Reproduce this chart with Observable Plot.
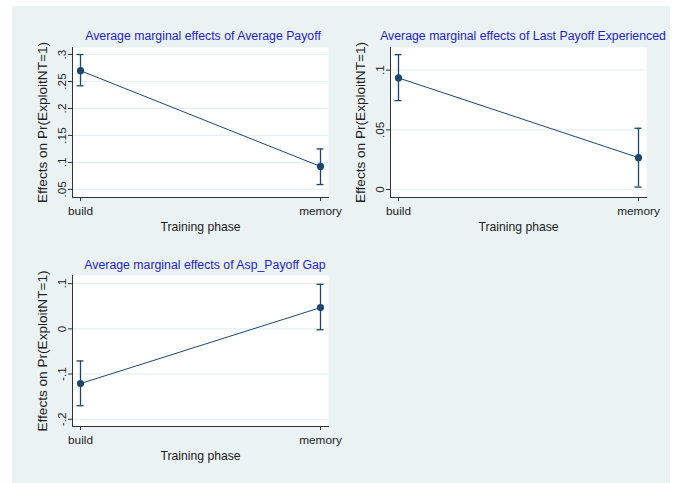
<!DOCTYPE html>
<html>
<head>
<meta charset="utf-8">
<script src="https://cdn.jsdelivr.net/npm/d3@7"></script>
<script src="https://cdn.jsdelivr.net/npm/@observablehq/plot@0.6"></script>
<style>
  html, body { margin: 0; padding: 0; background: #ffffff; }
  #root { position: relative; width: 679px; height: 483px; overflow: hidden; font-family: "Liberation Sans", Arial, sans-serif; }
  #bg { position: absolute; left: 12px; top: 6px; width: 658px; height: 477px; background: #eaf2f3; }
  .panel { position: absolute; }
  .panel svg { overflow: visible; }
  .title { position: absolute; white-space: nowrap; color: #1f1fc4; font-size: 12.3px; transform: translateX(-50%); }
  .panel svg g[aria-label="y-axis tick label"] text,
  .panel svg g[aria-label="x-axis tick label"] text { font-size: 11.8px; }
  .panel svg g[aria-label="y-axis label"] text { font-size: 13.6px; }
  .panel svg g[aria-label="x-axis label"] text { font-size: 12.2px; }
</style>
</head>
<body>
<div id="root"><div id="bg"></div></div>
<script>
// ---- data ----
const phases = ["build", "memory"];

const titles = [
  "Average marginal effects of Average Payoff",
  "Average marginal effects of Last Payoff Experienced",
  "Average marginal effects of Asp_Payoff Gap"
];

// panel 1: Average Payoff
const est1 = [0.270, 0.0925];
const lo1  = [0.242, 0.059];
const hi1  = [0.300, 0.125];
const ticks1 = [0.05, 0.1, 0.15, 0.2, 0.25, 0.3];
const tickLabels1 = [".05", ".1", ".15", ".2", ".25", ".3"];

// panel 2: Last Payoff Experienced
const est2 = [0.0935, 0.0267];
const lo2  = [0.0745, 0.002];
const hi2  = [0.113, 0.0513];
const ticks2 = [0, 0.05, 0.1];
const tickLabels2 = ["0", ".05", ".1"];

// panel 3: Asp_Payoff Gap
const est3 = [-0.121, 0.047];
const lo3  = [-0.170, -0.002];
const hi3  = [-0.071, 0.0985];
const ticks3 = [-0.2, -0.1, 0, 0.1];
const tickLabels3 = ["-.2", "-.1", "0", ".1"];

const xLabel = "Training phase";
const yLabel = "Effects on Pr(ExploitNT=1)";

// ---- layout ----
const panels = [
  {title: titles[0], est: est1, lo: lo1, hi: hi1, ticks: ticks1, labels: tickLabels1,
   domain: [0.035, 0.313], left: 0, top: 0, width: 360, height: 240,
   m: {l: 72, r: 32, t: 47, b: 43}, titleX: 203, titleY: 29},
  {title: titles[1], est: est2, lo: lo2, hi: hi2, ticks: ticks2, labels: tickLabels2,
   domain: [-0.0067, 0.119], left: 340, top: 0, width: 339, height: 240,
   m: {l: 50, r: 33, t: 47, b: 43}, titleX: 523, titleY: 29},
  {title: titles[2], est: est3, lo: lo3, hi: hi3, ticks: ticks3, labels: tickLabels3,
   domain: [-0.216, 0.118], left: 0, top: 240, width: 360, height: 243,
   m: {l: 72, r: 32, t: 35, b: 57}, titleX: 205, titleY: 258}
];

const navy = "#1a476f";
const root = document.getElementById("root");

for (const p of panels) {
  const rows = phases.map((ph, i) => ({phase: ph, est: p.est[i], lo: p.lo[i], hi: p.hi[i]}));
  const fmt = d => p.labels[p.ticks.indexOf(d)] ?? String(d);
  const chart = Plot.plot({
    width: p.width,
    height: p.height,
    marginLeft: p.m.l, marginRight: p.m.r, marginTop: p.m.t, marginBottom: p.m.b,
    style: {background: "transparent", fontFamily: "'Liberation Sans', Arial, sans-serif", fontSize: "11.8px", color: "#222"},
    x: {type: "point", domain: phases, inset: 8, padding: 0},
    y: {domain: p.domain},
    marks: [
      Plot.frame({fill: "white", stroke: null}),
      Plot.gridY(p.ticks, {stroke: "#e6eff1", strokeOpacity: 1, strokeWidth: 1.2}),
      Plot.axisY({ticks: p.ticks, tickFormat: fmt, tickRotate: -90, tickSize: 4, tickPadding: 3, fontSize: 11.8,
                  label: yLabel, labelAnchor: "center", labelArrow: "none", labelOffset: 35, stroke: "#333"}),
      Plot.axisX({tickSize: 4, tickPadding: 5, fontSize: 11.8, label: xLabel, labelAnchor: "center", labelArrow: "none", labelOffset: 33, stroke: "#333"}),
      Plot.frame({anchor: "left", stroke: "#333"}),
      Plot.frame({anchor: "bottom", stroke: "#333"}),
      Plot.line(rows, {x: "phase", y: "est", stroke: navy, strokeWidth: 1}),
      Plot.ruleX(rows, {x: "phase", y1: "lo", y2: "hi", stroke: navy, strokeWidth: 1.3}),
      Plot.ruleY(rows, {y: "lo", x1: "phase", x2: "phase", insetLeft: -3.5, insetRight: -3.5, stroke: navy, strokeWidth: 1.3}),
      Plot.ruleY(rows, {y: "hi", x1: "phase", x2: "phase", insetLeft: -3.5, insetRight: -3.5, stroke: navy, strokeWidth: 1.3}),
      Plot.dot(rows, {x: "phase", y: "est", r: 3.6, fill: navy, stroke: null})
    ]
  });
  const div = document.createElement("div");
  div.className = "panel";
  div.style.left = p.left + "px";
  div.style.top = p.top + "px";
  div.appendChild(chart);
  root.appendChild(div);

  const t = document.createElement("div");
  t.className = "title";
  t.textContent = p.title;
  t.style.left = p.titleX + "px";
  t.style.top = p.titleY + "px";
  root.appendChild(t);
}
</script>
</body>
</html>
